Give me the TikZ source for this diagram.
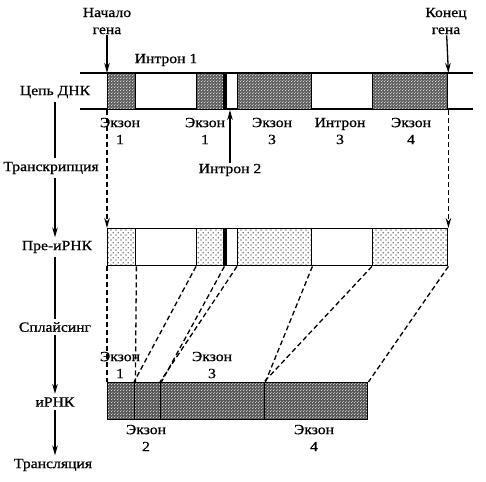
\documentclass[tikz,border=0pt]{standalone}
\usepackage{fontspec}
\setmainfont{Liberation Serif}[FakeStretch=1.12,FakeBold=0.8]
\usetikzlibrary{patterns.meta,arrows.meta}
\tikzdeclarepattern{name=predots,type=uncolored,
  bottom left={(0pt,0pt)},top right={(5pt,5pt)},tile size={(5pt,5pt)},
  code={\fill (1.2pt,1.2pt) circle (0.75pt);\fill (3.7pt,3.7pt) circle (0.75pt);}}
\tikzdeclarepattern{name=holes,type=uncolored,
  bottom left={(0pt,0pt)},top right={(3pt,3pt)},tile size={(3pt,3pt)},
  code={\fill (0.75pt,0.75pt) circle (0.6pt);\fill (2.25pt,2.25pt) circle (0.6pt);}}
\begin{document}
\begin{tikzpicture}[x=1pt,y=-1pt,>={Stealth[length=10pt,width=5.5pt]},
    font=\fontsize{14}{17}\selectfont,
    box/.style={draw,line width=1.4pt,anchor=north west,inner sep=0pt,minimum height=36pt},
    dnaex/.style={box,preaction={fill=black!62},pattern=holes,pattern color=white},
    preex/.style={box,minimum height=37pt,pattern=predots},
    mex/.style={box,minimum height=37pt,preaction={fill=black!66},pattern=holes,pattern color=white},
    lbl/.style={align=center,inner sep=1pt},
    pfeil/.style={line width=1.3pt},
    link/.style={dash pattern=on 5pt off 3pt,line width=1.3pt}]
\useasboundingbox (0,0) rectangle (486,481);
% цепь ДНК
\draw[line width=1.6pt] (80,73)--(473,73);
\draw[line width=1.8pt] (80,109)--(473,109);
\node[dnaex,minimum width=28pt] (d1) at (107,73){};
\node[dnaex,minimum width=27pt] (d2) at (196,73){};
\node[dnaex,minimum width=74pt] (d3) at (237,73){};
\node[dnaex,minimum width=75pt] (d4) at (372,73){};
\draw[line width=2.5pt] ([xshift=1pt]d2.north east)--([xshift=1pt]d2.south east);
% пре-иРНК
\node[box,minimum width=340pt,minimum height=37pt] (pb) at (107,228){};
\node[preex,minimum width=28pt] (p1) at (107,228){};
\node[preex,minimum width=27pt] (p2) at (196,228){};
\node[preex,minimum width=74pt] (p3) at (237,228){};
\node[preex,minimum width=75pt] (p4) at (372,228){};
\draw[line width=2.5pt] ([xshift=1pt]p2.north east)--([xshift=1pt]p2.south east);
% иРНК
\node[mex,minimum width=27pt] (m1) at (107,382){};
\node[mex,minimum width=26pt] (m2) at (134,382){};
\node[mex,minimum width=104pt] (m3) at (160,382){};
\node[mex,minimum width=103pt] (m4) at (264,382){};
% подписи сверху
\node[lbl] (start) at (107,21){Начало\\гена};
\node[lbl] (stop) at (446,21){Конец\\гена};
\node[lbl] (i1) at (166,60){Интрон 1};
\draw[->,pfeil] (start)--(d1.north west);
\draw[->,pfeil] (stop)--(d4.north east);
\node[lbl] (e1) at (120,131){Экзон\\1};
\node[lbl] (e2) at (205,131){Экзон\\1};
\node[lbl] (e3) at (272,131){Экзон\\3};
\node[lbl] (i3) at (340,131){Интрон\\3};
\node[lbl] (e4) at (411,131){Экзон\\4};
\node[lbl] (i2) at (230,170){Интрон 2};
\coordinate (i2t) at (230,110);
\draw[->,pfeil] (i2)--(i2t);
% подписи у иРНК
\node[lbl] (me1) at (120,365){Экзон\\1};
\node[lbl] (me3) at (212,365){Экзон\\3};
\node[lbl] (me2) at (146,438){Экзон\\2};
\node[lbl] (me4) at (314,438){Экзон\\4};
% левая колонка
\node (dna) at (55,92){Цепь ДНК};
\node (tr) at (51,168){Транскрипция};
\node (pre) at (57,247){Пре-иРНК};
\node (spl) at (55,327){Сплайсинг};
\node (mrna) at (55,402){иРНК};
\node (trl) at (53,465){Трансляция};
\draw[pfeil] (dna.south)--(dna.south|-tr.north);
\draw[->,pfeil] (dna.south|-tr.south)--(dna.south|-pre.north);
\draw[pfeil] (dna.south|-pre.south)--(dna.south|-spl.north);
\draw[->,pfeil] (dna.south|-spl.south)--(dna.south|-mrna.north);
\draw[->,pfeil] (dna.south|-mrna.south)--(dna.south|-trl.north);
% транскрипция и сплайсинг
\draw[link,->] (d1.south west)--(p1.north west);
\draw[link,->] (d4.south east)--(p4.north east);
\draw[link] (p1.south west)--(m1.north west);
\draw[link] (p1.south east)--(m1.north east);
\draw[link] (p2.south west)--(m2.north west);
\draw[link] (p2.south east)--(m2.north east);
\draw[link] (p3.south west)--(m3.north west);
\draw[link] (p3.south east)--(m3.north east);
\draw[link] (p4.south west)--(m4.north west);
\draw[link] (p4.south east)--(m4.north east);
\end{tikzpicture}
\end{document}
